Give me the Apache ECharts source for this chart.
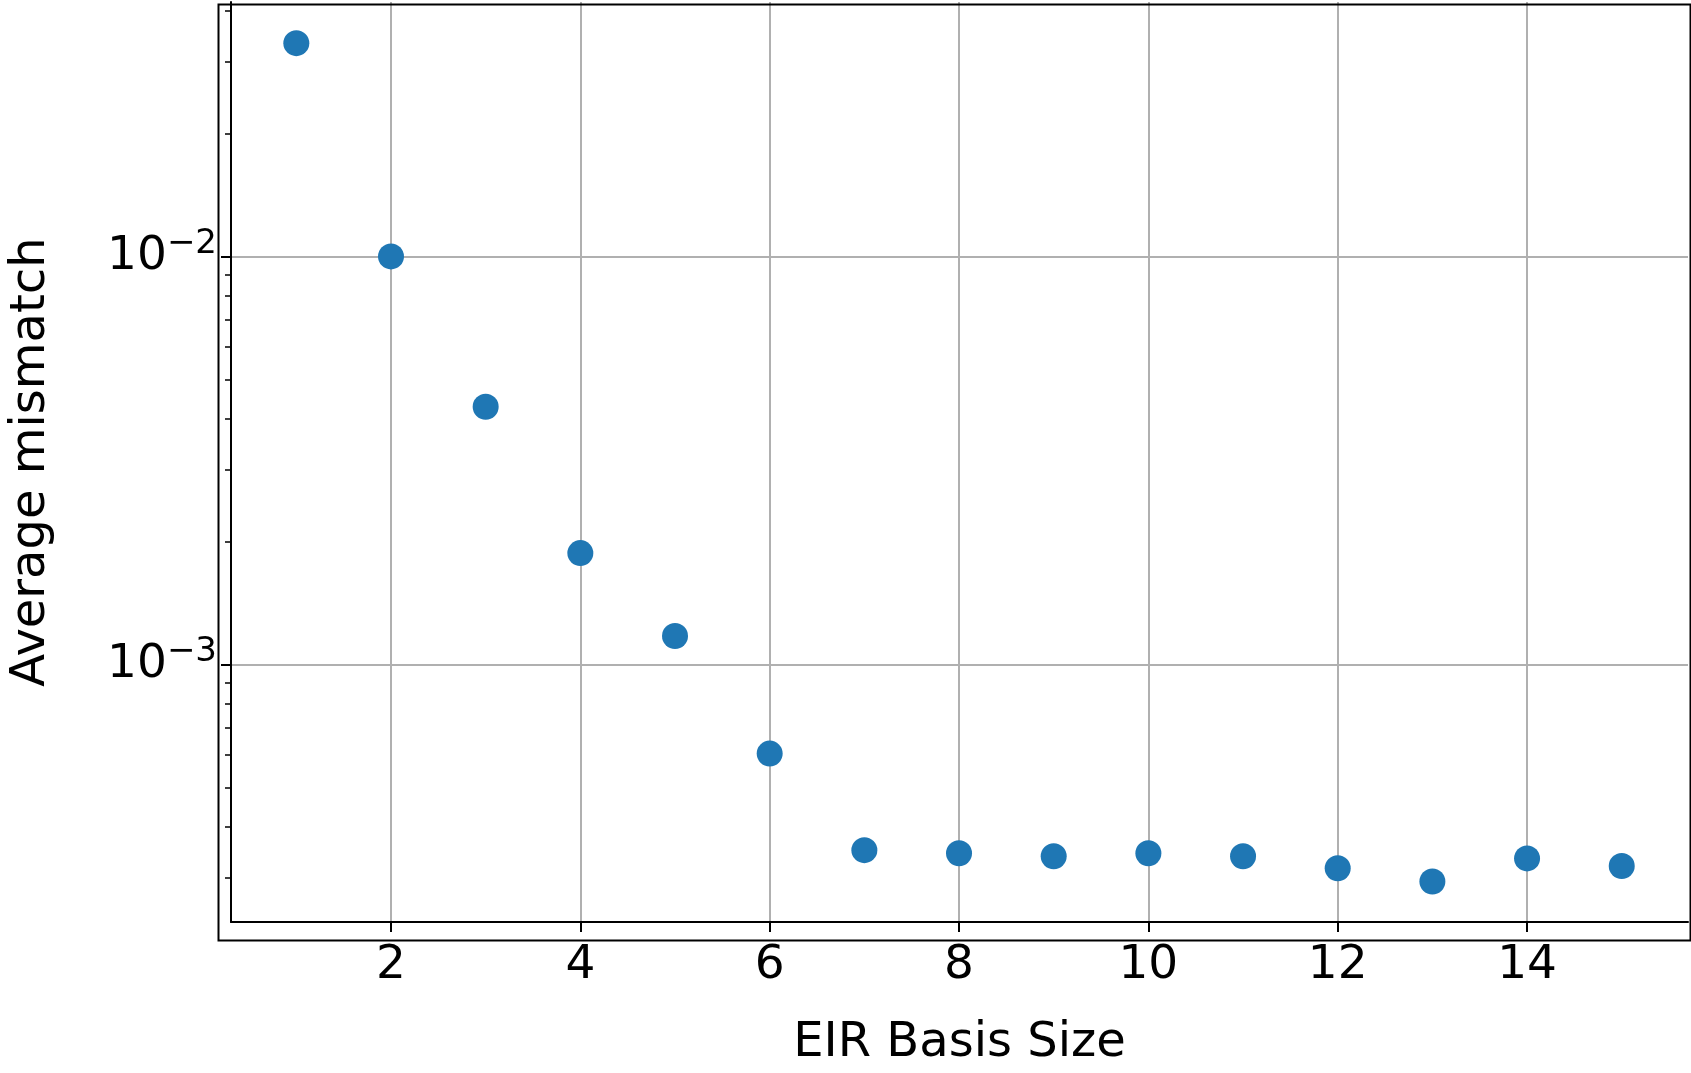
<!DOCTYPE html><html><head><meta charset="utf-8"><script src="https://cdn.jsdelivr.net/npm/echarts@6/dist/echarts.min.js"></script>
<style>html,body{margin:0;background:#fff}#c{width:1691px;height:1073px}</style></head><body><div id="c"></div><script>
const basisSize=[1,2,3,4,5,6,7,8,9,10,11,12,13,14,15];
const mismatch=[0.0333,0.0100,0.00428,0.001875,0.001175,0.000605,0.000351,0.000345,0.000339,0.000345,0.000339,0.000317,0.000294,0.000335,0.000321];
const xTicks=[2,4,6,8,10,12,14];
const yMajor=[0.001,0.01];
const yMinor=[0.0003,0.0004,0.0005,0.0006,0.0007,0.0008,0.0009,0.002,0.003,0.004,0.005,0.006,0.007,0.008,0.009,0.02,0.03,0.04];
const F='DejaVu Sans';
const ch=echarts.init(document.getElementById('c'));
const yMin=0.000234,yMax=0.042;
ch.setOption({animation:false,
grid:{left:216,right:3,top:2,bottom:135},
xAxis:{type:'value',min:0.31,max:15.7,name:'EIR Basis Size',nameLocation:'middle',nameGap:98,nameTextStyle:{fontFamily:F,fontSize:48,color:'#000'},
 axisLine:{onZero:false,lineStyle:{color:'#000',width:2}},
 axisTick:{customValues:xTicks,length:10,lineStyle:{color:'#000',width:2}},
 axisLabel:{customValues:xTicks,fontFamily:F,fontSize:47,color:'#000',margin:20},
 splitLine:{show:true,lineStyle:{color:'#b0b0b0',width:2}}},
yAxis:[{type:'log',min:yMin,max:yMax,name:'Average mismatch',nameLocation:'middle',nameGap:175,nameTextStyle:{fontFamily:F,fontSize:48,color:'#000'},
 axisLine:{show:true,lineStyle:{color:'#000',width:2}},
 axisTick:{customValues:yMajor,length:10,lineStyle:{color:'#000',width:2}},
 axisLabel:{customValues:yMajor,fontFamily:F,fontSize:47,color:'#000',margin:14,
  formatter:v=>'10{s|−'+Math.round(-Math.log10(v))+'}',rich:{s:{fontFamily:F,fontSize:34,verticalAlign:'top',padding:[0,0,24,0]}}},
 splitLine:{show:true,lineStyle:{color:'#b0b0b0',width:2}}},
{type:'log',min:yMin,max:yMax,position:'left',axisLine:{show:false},
 axisTick:{show:true,customValues:yMinor,length:6,lineStyle:{color:'#000',width:1.5}},
 axisLabel:{show:false},splitLine:{show:false}}],
series:[{type:'scatter',data:basisSize.map((x,i)=>[x,mismatch[i]]),symbolSize:26,itemStyle:{color:'#1f77b4',opacity:1}}],
graphic:[{type:'rect',left:216,top:2,shape:{width:1472,height:936},style:{fill:'none',stroke:'#000',lineWidth:2},z:100}]
});
</script></body></html>
